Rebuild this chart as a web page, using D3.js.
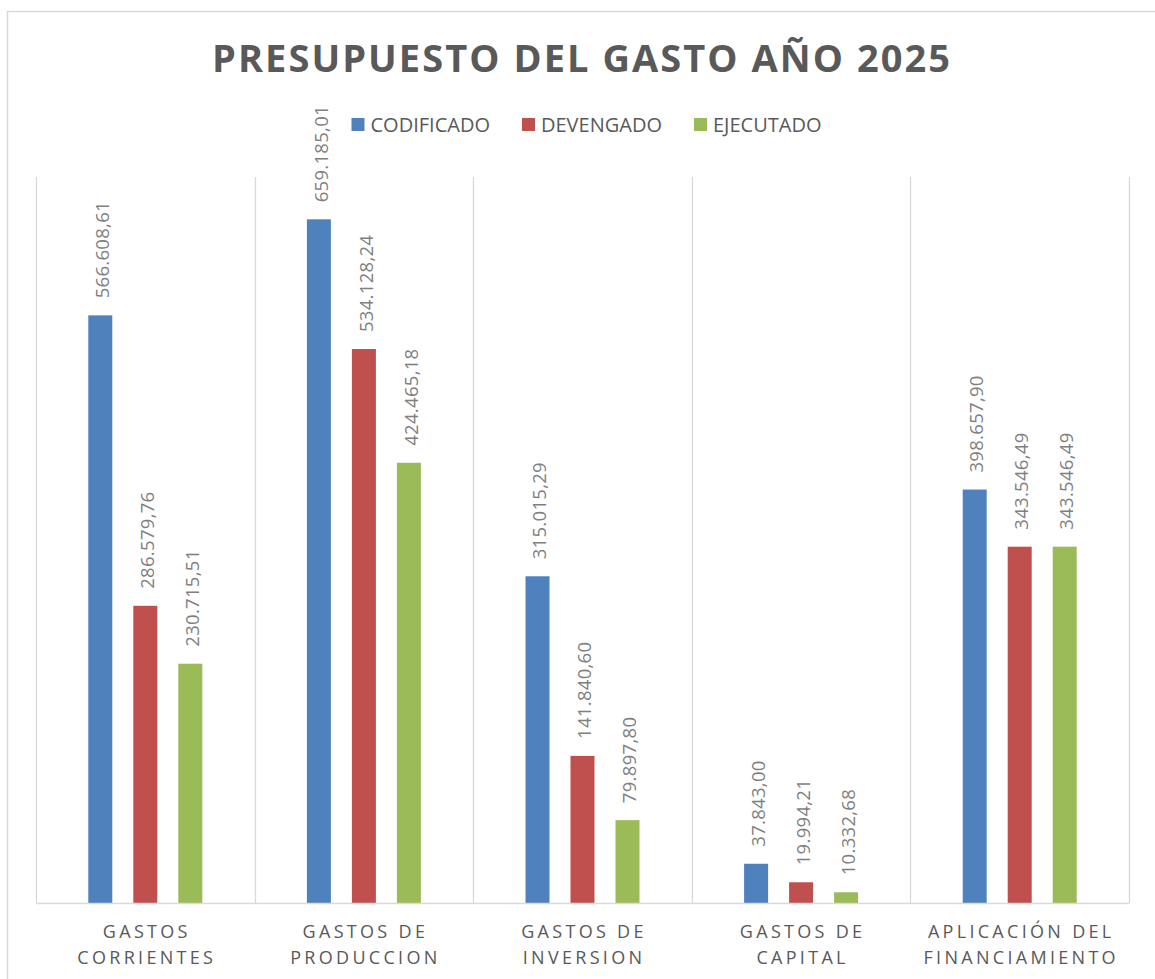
<!DOCTYPE html>
<html>
<head>
<meta charset="utf-8">
<script src="https://cdn.jsdelivr.net/npm/d3@7"></script>
<style>
  body { margin: 0; background: #fff; }
  svg text { font-family: "Open Sans", sans-serif; }
</style>
</head>
<body>
<div id="chart"></div>
<script>
// Data
const categories = ["GASTOS\nCORRIENTES", "GASTOS DE\nPRODUCCION", "GASTOS DE\nINVERSION", "GASTOS DE\nCAPITAL", "APLICACIÓN DEL\nFINANCIAMIENTO"];
const seriesNames = ["CODIFICADO", "DEVENGADO", "EJECUTADO"];
const codificado = [566608.61, 659185.01, 315015.29, 37843.00, 398657.90];
const devengado = [286579.76, 534128.24, 141840.60, 19994.21, 343546.49];
const ejecutado = [230715.51, 424465.18, 79897.80, 10332.68, 343546.49];
const colors = ["#4f81bd", "#c0504d", "#9bbb59"];

const values = [codificado, devengado, ejecutado];

const width = 1155, height = 979;
const plot = { left: 36, right: 1129, top: 177, bottom: 903 };

const svg = d3.select("#chart").append("svg")
  .attr("width", width)
  .attr("height", height);

// outer frame
svg.append("rect")
  .attr("x", 7.5).attr("y", 11.5)
  .attr("width", 1170).attr("height", 990)
  .attr("fill", "none")
  .attr("stroke", "#d9d9d9")
  .attr("stroke-width", 1.5);

// title
svg.append("text")
  .attr("x", 581).attr("y", 72)
  .attr("text-anchor", "middle")
  .attr("font-size", 38)
  .attr("font-weight", "bold")
  .attr("fill", "#595959")
  .attr("textLength", 738)
  .attr("lengthAdjust", "spacing")
  .text("PRESUPUESTO DEL GASTO AÑO 2025");

// scales
const x0 = d3.scaleBand()
  .domain(categories)
  .range([plot.left, plot.right])
  .padding(0);

const x1 = d3.scaleBand()
  .domain(seriesNames)
  .range([0, 114])
  .paddingInner(21 / 45)
  .paddingOuter(0);

const y = d3.scaleLinear()
  .domain([0, 700000])
  .range([plot.bottom, plot.top]);

const fmt = d3.formatLocale({ decimal: ",", thousands: ".", grouping: [3], currency: ["", ""] }).format(",.2f");

// vertical gridlines between categories
const bounds = categories.map(c => x0(c)).concat([x0.range()[1]]);
svg.append("g").selectAll("line")
  .data(bounds)
  .enter().append("line")
  .attr("x1", d => Math.round(d) + 0.5)
  .attr("x2", d => Math.round(d) + 0.5)
  .attr("y1", plot.top)
  .attr("y2", plot.bottom)
  .attr("stroke", "#d9d9d9")
  .attr("stroke-width", 1.3);

// bars
const rows = [];
categories.forEach((c, i) => {
  seriesNames.forEach((s, j) => {
    rows.push({ cat: c, series: s, value: values[j][i], color: colors[j] });
  });
});

const groupOffset = (x0.bandwidth() - 114) / 2;

svg.append("g").selectAll("rect")
  .data(rows)
  .enter().append("rect")
  .attr("x", d => x0(d.cat) + groupOffset + x1(d.series))
  .attr("y", d => y(d.value))
  .attr("width", x1.bandwidth())
  .attr("height", d => y(0) - y(d.value))
  .attr("fill", d => d.color);

// data labels
svg.append("g").selectAll("text")
  .data(rows)
  .enter().append("text")
  .attr("transform", d => {
    const cx = x0(d.cat) + groupOffset + x1(d.series) + x1.bandwidth() / 2 + 2;
    return `translate(${cx},${y(d.value) - 17}) rotate(-90)`;
  })
  .attr("dy", "0.36em")
  .attr("font-size", 18.5)
  .attr("letter-spacing", 0.3)
  .attr("fill", "#7f7f7f")
  .text(d => fmt(d.value));

// baseline
svg.append("line")
  .attr("x1", plot.left).attr("x2", plot.right)
  .attr("y1", plot.bottom + 0.5).attr("y2", plot.bottom + 0.5)
  .attr("stroke", "#d9d9d9")
  .attr("stroke-width", 1.5);

// category axis
const xAxis = svg.append("g")
  .attr("transform", `translate(0,${plot.bottom})`)
  .call(d3.axisBottom(x0).tickSize(0).tickFormat(""));
xAxis.select(".domain").remove();

xAxis.selectAll(".tick").each(function (d) {
  const t = d3.select(this).append("text")
    .attr("text-anchor", "middle")
    .attr("font-size", 18)
    .attr("letter-spacing", 3.3)
    .attr("fill", "#595959");
  d.split("\n").forEach((line, i) => {
    t.append("tspan")
      .attr("x", 1.5)
      .attr("y", 35 + i * 26)
      .text(line);
  });
});

// legend
const legend = svg.append("g");
let lx = 0;
seriesNames.forEach((s, i) => {
  const g = legend.append("g").attr("transform", `translate(${lx},0)`);
  g.append("rect")
    .attr("x", 0).attr("y", 118)
    .attr("width", 13).attr("height", 13)
    .attr("fill", colors[i]);
  const t = g.append("text")
    .attr("x", 19).attr("y", 132)
    .attr("font-size", 20)
    .attr("fill", "#595959")
    .text(s);
  lx += 19 + t.node().getComputedTextLength() + 32;
});
const legendWidth = lx - 32;
legend.attr("transform", `translate(${586.5 - legendWidth / 2},0)`);
</script>
</body>
</html>
